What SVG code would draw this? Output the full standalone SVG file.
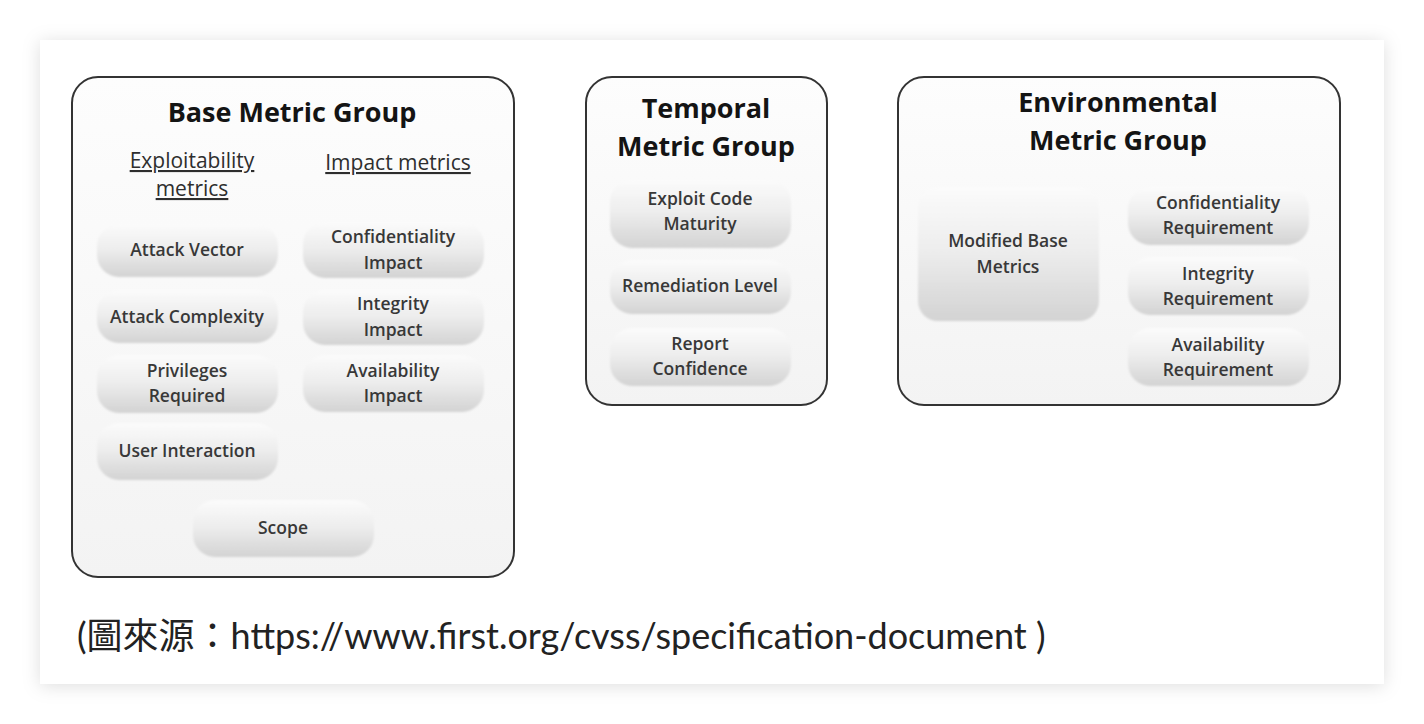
<svg xmlns="http://www.w3.org/2000/svg" width="1424" height="724" viewBox="0 0 1424 724">
<defs>
<filter id="cardShadow" x="-10%" y="-10%" width="120%" height="120%">
<feDropShadow dx="0" dy="2" stdDeviation="9" flood-color="#000" flood-opacity="0.13"/>
</filter>
<filter id="soft" x="-5%" y="-10%" width="110%" height="120%">
<feGaussianBlur stdDeviation="1.2"/>
</filter>
<linearGradient id="pillGrad" x1="0" y1="0" x2="0" y2="1">
<stop offset="0" stop-color="#fbfbfb"/>
<stop offset="0.45" stop-color="#eeeeee"/>
<stop offset="1" stop-color="#d3d3d3"/>
</linearGradient>
<linearGradient id="boxGrad" x1="0" y1="0" x2="0" y2="1">
<stop offset="0" stop-color="#fdfdfd"/>
<stop offset="1" stop-color="#f3f3f3"/>
</linearGradient>
</defs>
<style>
.group{fill:url(#boxGrad);stroke:#333;stroke-width:2}
.pill{fill:url(#pillGrad);filter:url(#soft)}
.title{font-family:"Open Sans","Liberation Sans",sans-serif;font-weight:700;font-size:27px;fill:#141414;text-anchor:middle}
.head{font-family:"Open Sans","Liberation Sans",sans-serif;font-size:21px;fill:#2e2e2e;text-anchor:middle;text-decoration:underline}
.lbl{font-family:"Open Sans","Liberation Sans",sans-serif;font-weight:600;font-size:17.5px;fill:#383838;text-anchor:middle}
.cap{font-family:Lato,"Noto Sans CJK TC",sans-serif;font-size:36px;fill:#222}
</style>
<rect x="0" y="0" width="1424" height="724" fill="#ffffff"/>
<rect x="40" y="40" width="1344" height="644" fill="#ffffff" filter="url(#cardShadow)"/>

<g id="base-group">
<rect class="group" x="72" y="77" width="442" height="500" rx="26"/>
<text class="title" x="292" y="122">Base Metric Group</text>
<text class="head" x="192" y="168">Exploitability</text>
<text class="head" x="192" y="196">metrics</text>
<text class="head" x="398" y="170">Impact metrics</text>
</g>
<g id="attack-vector">
<rect class="pill" x="97" y="224" width="181" height="53" rx="22"/>
<text class="lbl" x="187" y="256">Attack Vector</text>
</g>
<g id="attack-complexity">
<rect class="pill" x="97" y="290" width="181" height="53" rx="22"/>
<text class="lbl" x="187" y="323">Attack Complexity</text>
</g>
<g id="privileges-required">
<rect class="pill" x="97" y="355" width="181" height="58" rx="22"/>
<text class="lbl" x="187" y="377">Privileges</text>
<text class="lbl" x="187" y="402">Required</text>
</g>
<g id="user-interaction">
<rect class="pill" x="97" y="423" width="181" height="57" rx="22"/>
<text class="lbl" x="187" y="457">User Interaction</text>
</g>
<g id="confidentiality-impact">
<rect class="pill" x="303" y="222" width="181" height="56" rx="22"/>
<text class="lbl" x="393" y="243">Confidentiality</text>
<text class="lbl" x="393" y="269">Impact</text>
</g>
<g id="integrity-impact">
<rect class="pill" x="303" y="290" width="181" height="55" rx="22"/>
<text class="lbl" x="393" y="310">Integrity</text>
<text class="lbl" x="393" y="336">Impact</text>
</g>
<g id="availability-impact">
<rect class="pill" x="303" y="355" width="181" height="57" rx="22"/>
<text class="lbl" x="393" y="377">Availability</text>
<text class="lbl" x="393" y="402">Impact</text>
</g>
<g id="scope">
<rect class="pill" x="193" y="500" width="181" height="57" rx="22"/>
<text class="lbl" x="283" y="534">Scope</text>
</g>

<g id="temporal-group">
<rect class="group" x="586" y="77" width="241" height="328" rx="26"/>
<text class="title" x="706" y="118">Temporal</text>
<text class="title" x="706" y="156">Metric Group</text>
</g>
<g id="exploit-code-maturity">
<rect class="pill" x="610" y="180" width="181" height="68" rx="22"/>
<text class="lbl" x="700" y="205">Exploit Code</text>
<text class="lbl" x="700" y="230">Maturity</text>
</g>
<g id="remediation-level">
<rect class="pill" x="610" y="260" width="181" height="54" rx="22"/>
<text class="lbl" x="700" y="292">Remediation Level</text>
</g>
<g id="report-confidence">
<rect class="pill" x="610" y="328" width="181" height="58" rx="22"/>
<text class="lbl" x="700" y="350">Report</text>
<text class="lbl" x="700" y="375">Confidence</text>
</g>

<g id="environmental-group">
<rect class="group" x="898" y="77" width="442" height="328" rx="26"/>
<text class="title" x="1118" y="112">Environmental</text>
<text class="title" x="1118" y="150">Metric Group</text>
</g>
<g id="modified-base-metrics">
<rect class="pill" x="918" y="187" width="181" height="134" rx="20"/>
<text class="lbl" x="1008" y="247">Modified Base</text>
<text class="lbl" x="1008" y="273">Metrics</text>
</g>
<g id="confidentiality-requirement">
<rect class="pill" x="1128" y="187" width="181" height="58" rx="22"/>
<text class="lbl" x="1218" y="209">Confidentiality</text>
<text class="lbl" x="1218" y="234">Requirement</text>
</g>
<g id="integrity-requirement">
<rect class="pill" x="1128" y="257" width="181" height="58" rx="22"/>
<text class="lbl" x="1218" y="280">Integrity</text>
<text class="lbl" x="1218" y="305">Requirement</text>
</g>
<g id="availability-requirement">
<rect class="pill" x="1128" y="328" width="181" height="58" rx="22"/>
<text class="lbl" x="1218" y="351">Availability</text>
<text class="lbl" x="1218" y="376">Requirement</text>
</g>

<g id="connectors"></g>

<text class="cap" x="77" y="649">(圖來源：https://www.first.org/cvss/specification-document )</text>
</svg>
